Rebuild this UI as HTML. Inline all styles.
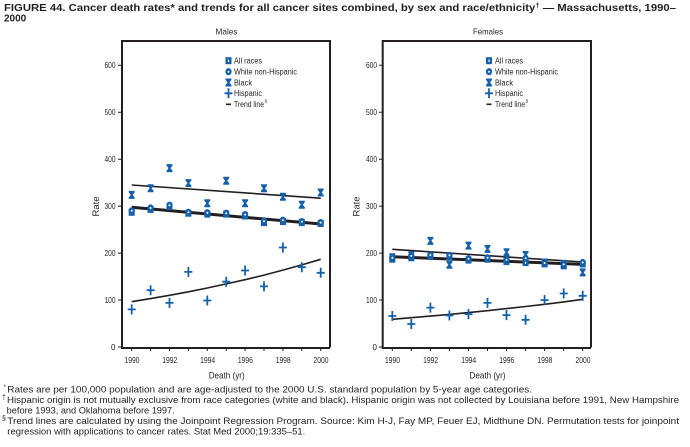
<!DOCTYPE html>
<html><head><meta charset="utf-8">
<style>
html,body{margin:0;padding:0;background:#fff;}
svg{display:block;}
text{font-family:"Liberation Sans",Arial,sans-serif;fill:#231f20;}
</style></head>
<body>
<svg width="690" height="447" viewBox="0 0 690 447" xmlns="http://www.w3.org/2000/svg">
<defs>
  <g id="sq"><rect x="-3" y="-3.5" width="6" height="7" fill="#1460aa"/><rect x="-0.6" y="-1.2" width="1.2" height="2.4" fill="#fff"/></g>
  <g id="ci"><ellipse cx="0" cy="0" rx="3.1" ry="3.6" fill="#1460aa"/><circle cx="0" cy="0" r="1" fill="#fff"/></g>
  <g id="bk"><path d="M-3,-4 H3 V-2.6 L1,0 L3,2.6 V4 H-3 V2.6 L-1,0 L-3,-2.6 Z" fill="#1460aa"/></g>
  <g id="hp"><path d="M-4,0 H4 M0,-5 V5" stroke="#1460aa" stroke-width="1.8" fill="none"/></g>
</defs>

<!-- Title -->
<text x="4" y="11" font-size="10" font-weight="bold" textLength="672" lengthAdjust="spacingAndGlyphs">FIGURE 44. Cancer death rates* and trends for all cancer sites combined, by sex and race/ethnicity<tspan font-size="7" dy="-3">†</tspan><tspan dy="3"> — Massachusetts, 1990–</tspan></text>
<text x="4" y="21.5" font-size="10" font-weight="bold">2000</text>

<!-- ================= MALES ================= -->
<text x="226.5" y="34.5" font-size="8.5" text-anchor="middle" textLength="22" lengthAdjust="spacingAndGlyphs">Males</text>
<path d="M122,41 H330 V347.5 M122,40 V348 H330" stroke="#231f20" stroke-width="2" fill="none"/>
<g stroke="#231f20" stroke-width="1">
  <path d="M118,347 H122 M118,300.05 H122 M118,253.1 H122 M118,206.15 H122 M118,159.2 H122 M118,112.25 H122 M118,65.3 H122"/>
  <path d="M131.7,348 V351 M150.6,348 V351 M169.5,348 V351 M188.4,348 V351 M207.3,348 V351 M226.2,348 V351 M245.1,348 V351 M264,348 V351 M282.9,348 V351 M301.8,348 V351 M320.7,348 V351"/>
</g>
<g font-size="8" text-anchor="end">
  <text x="115.5" y="350">0</text>
  <text x="115.5" y="303" textLength="11" lengthAdjust="spacingAndGlyphs">100</text>
  <text x="115.5" y="256" textLength="11" lengthAdjust="spacingAndGlyphs">200</text>
  <text x="115.5" y="209" textLength="11" lengthAdjust="spacingAndGlyphs">300</text>
  <text x="115.5" y="162" textLength="11" lengthAdjust="spacingAndGlyphs">400</text>
  <text x="115.5" y="115" textLength="11" lengthAdjust="spacingAndGlyphs">500</text>
  <text x="115.5" y="68" textLength="11" lengthAdjust="spacingAndGlyphs">600</text>
</g>
<g font-size="8.5" text-anchor="middle">
  <text x="132" y="363" textLength="15" lengthAdjust="spacingAndGlyphs">1990</text>
  <text x="169.8" y="363" textLength="15" lengthAdjust="spacingAndGlyphs">1992</text>
  <text x="207.6" y="363" textLength="15" lengthAdjust="spacingAndGlyphs">1994</text>
  <text x="245.4" y="363" textLength="15" lengthAdjust="spacingAndGlyphs">1996</text>
  <text x="283.2" y="363" textLength="15" lengthAdjust="spacingAndGlyphs">1998</text>
  <text x="321" y="363" textLength="15" lengthAdjust="spacingAndGlyphs">2000</text>
</g>
<text x="226.7" y="378.5" font-size="9" text-anchor="middle" textLength="36" lengthAdjust="spacingAndGlyphs">Death (yr)</text>
<text transform="translate(99,206.5) rotate(-90)" font-size="9" text-anchor="middle" textLength="20" lengthAdjust="spacingAndGlyphs">Rate</text>

<!-- legend males -->
<use href="#sq" x="228.5" y="60.7"/>
<use href="#ci" x="228.5" y="71.7"/>
<use href="#bk" x="228.5" y="82.5"/>
<use href="#hp" x="228.5" y="93.3"/>
<path d="M226,104.3 H231" stroke="#231f20" stroke-width="1.6"/>
<g font-size="8">
  <text x="234" y="63.5" textLength="28" lengthAdjust="spacingAndGlyphs">All races</text>
  <text x="234" y="74.5" textLength="63" lengthAdjust="spacingAndGlyphs">White non-Hispanic</text>
  <text x="234" y="85.3" textLength="18" lengthAdjust="spacingAndGlyphs">Black</text>
  <text x="234" y="96.1" textLength="28" lengthAdjust="spacingAndGlyphs">Hispanic</text>
  <text x="234" y="107.1" textLength="30" lengthAdjust="spacingAndGlyphs">Trend line</text>
  <text x="264.5" y="102.5" font-size="4.5">§</text>
</g>

<!-- male trend lines -->
<path d="M131.7,185 L320.7,198.2" stroke="#231f20" stroke-width="1.6" fill="none"/>
<path d="M131.7,207.3 L320.7,224" stroke="#231f20" stroke-width="3" fill="none"/>
<polyline points="131.7,301.7 150.6,298.6 169.5,295.3 188.4,291.8 207.3,288 226.2,283.9 245.1,279.7 264,275.1 282.9,270.1 301.8,264.9 320.7,259.3" stroke="#231f20" stroke-width="1.6" fill="none"/>

<!-- male markers -->
<g>
<use href="#bk" x="131.7" y="194.9"/><use href="#bk" x="150.6" y="188.3"/><use href="#bk" x="169.5" y="168.1"/><use href="#bk" x="188.4" y="183.1"/><use href="#bk" x="207.3" y="203.3"/><use href="#bk" x="226.2" y="180.8"/><use href="#bk" x="245.1" y="203.3"/><use href="#bk" x="264" y="188.3"/><use href="#bk" x="282.9" y="196.8"/><use href="#bk" x="301.8" y="204.7"/><use href="#bk" x="320.7" y="192.5"/>
<use href="#sq" x="131.7" y="212.3"/><use href="#sq" x="150.6" y="209.4"/><use href="#sq" x="169.5" y="206.6"/><use href="#sq" x="188.4" y="213.2"/><use href="#sq" x="207.3" y="214.1"/><use href="#sq" x="226.2" y="214.1"/><use href="#sq" x="245.1" y="216"/><use href="#sq" x="264" y="222.6"/><use href="#sq" x="282.9" y="221.6"/><use href="#sq" x="301.8" y="222.6"/><use href="#sq" x="320.7" y="223.5"/>
<use href="#ci" x="131.7" y="210.8"/><use href="#ci" x="150.6" y="208"/><use href="#ci" x="169.5" y="205.2"/><use href="#ci" x="188.4" y="212.3"/><use href="#ci" x="207.3" y="212.7"/><use href="#ci" x="226.2" y="213.2"/><use href="#ci" x="245.1" y="214.6"/><use href="#ci" x="264" y="221.2"/><use href="#ci" x="282.9" y="220.2"/><use href="#ci" x="301.8" y="221.6"/><use href="#ci" x="320.7" y="222.6"/>
<use href="#hp" x="131.7" y="309.4"/><use href="#hp" x="150.6" y="290.2"/><use href="#hp" x="169.5" y="302.9"/><use href="#hp" x="188.4" y="271.9"/><use href="#hp" x="207.3" y="300.5"/><use href="#hp" x="226.2" y="281.7"/><use href="#hp" x="245.1" y="270.5"/><use href="#hp" x="264" y="286.4"/><use href="#hp" x="282.9" y="247.5"/><use href="#hp" x="301.8" y="267.2"/><use href="#hp" x="320.7" y="272.8"/>
</g>

<!-- ================= FEMALES ================= -->
<text x="488" y="34.5" font-size="8.5" text-anchor="middle" textLength="30" lengthAdjust="spacingAndGlyphs">Females</text>
<path d="M382.7,41 H591 V347.5 M382.7,40 V348 H591" stroke="#231f20" stroke-width="2" fill="none"/>
<g stroke="#231f20" stroke-width="1">
  <path d="M379,347 H382.7 M379,300.05 H382.7 M379,253.1 H382.7 M379,206.15 H382.7 M379,159.2 H382.7 M379,112.25 H382.7 M379,65.3 H382.7"/>
  <path d="M392.3,348 V351 M411.3,348 V351 M430.4,348 V351 M449.4,348 V351 M468.5,348 V351 M487.5,348 V351 M506.5,348 V351 M525.6,348 V351 M544.6,348 V351 M563.7,348 V351 M582.7,348 V351"/>
</g>
<g font-size="8" text-anchor="end">
  <text x="377" y="350">0</text>
  <text x="377" y="303" textLength="11" lengthAdjust="spacingAndGlyphs">100</text>
  <text x="377" y="256" textLength="11" lengthAdjust="spacingAndGlyphs">200</text>
  <text x="377" y="209" textLength="11" lengthAdjust="spacingAndGlyphs">300</text>
  <text x="377" y="162" textLength="11" lengthAdjust="spacingAndGlyphs">400</text>
  <text x="377" y="115" textLength="11" lengthAdjust="spacingAndGlyphs">500</text>
  <text x="377" y="68" textLength="11" lengthAdjust="spacingAndGlyphs">600</text>
</g>
<g font-size="8.5" text-anchor="middle">
  <text x="392.5" y="363" textLength="15" lengthAdjust="spacingAndGlyphs">1990</text>
  <text x="430.6" y="363" textLength="15" lengthAdjust="spacingAndGlyphs">1992</text>
  <text x="468.7" y="363" textLength="15" lengthAdjust="spacingAndGlyphs">1994</text>
  <text x="506.8" y="363" textLength="15" lengthAdjust="spacingAndGlyphs">1996</text>
  <text x="544.9" y="363" textLength="15" lengthAdjust="spacingAndGlyphs">1998</text>
  <text x="583" y="363" textLength="15" lengthAdjust="spacingAndGlyphs">2000</text>
</g>
<text x="487.5" y="378.5" font-size="9" text-anchor="middle" textLength="36" lengthAdjust="spacingAndGlyphs">Death (yr)</text>
<text transform="translate(359.5,206.5) rotate(-90)" font-size="9" text-anchor="middle" textLength="20" lengthAdjust="spacingAndGlyphs">Rate</text>

<!-- legend females -->
<use href="#sq" x="489" y="60.7"/>
<use href="#ci" x="489" y="71.7"/>
<use href="#bk" x="489" y="82.5"/>
<use href="#hp" x="489" y="93.3"/>
<path d="M486.5,104.3 H491.5" stroke="#231f20" stroke-width="1.6"/>
<g font-size="8">
  <text x="495" y="63.5" textLength="28" lengthAdjust="spacingAndGlyphs">All races</text>
  <text x="495" y="74.5" textLength="63" lengthAdjust="spacingAndGlyphs">White non-Hispanic</text>
  <text x="495" y="85.3" textLength="18" lengthAdjust="spacingAndGlyphs">Black</text>
  <text x="495" y="96.1" textLength="28" lengthAdjust="spacingAndGlyphs">Hispanic</text>
  <text x="495" y="107.1" textLength="30" lengthAdjust="spacingAndGlyphs">Trend line</text>
  <text x="525.5" y="102.5" font-size="4.5">§</text>
</g>

<!-- female trend lines -->
<path d="M392.3,249.3 L582.7,262" stroke="#231f20" stroke-width="1.6" fill="none"/>
<path d="M392.3,256.7 L582.7,264.4" stroke="#231f20" stroke-width="3" fill="none"/>
<polyline points="392.3,319.3 411.3,317.7 430.4,316.1 449.4,314.4 468.5,312.6 487.5,310.7 506.5,308.6 525.6,306.5 544.6,304.3 563.7,301.9 582.7,299.3" stroke="#231f20" stroke-width="1.6" fill="none"/>

<!-- female markers -->
<g>
<use href="#bk" x="392.3" y="257.3"/><use href="#bk" x="411.3" y="255.4"/><use href="#bk" x="430.4" y="240.9"/><use href="#bk" x="449.4" y="264.8"/><use href="#bk" x="468.5" y="245.6"/><use href="#bk" x="487.5" y="248.9"/><use href="#bk" x="506.5" y="252.2"/><use href="#bk" x="525.6" y="255"/><use href="#bk" x="544.6" y="262.5"/><use href="#bk" x="563.7" y="263.9"/><use href="#bk" x="582.7" y="272.4"/>
<use href="#sq" x="392.3" y="259.2"/><use href="#sq" x="411.3" y="257.8"/><use href="#sq" x="430.4" y="256.4"/><use href="#sq" x="449.4" y="256.9"/><use href="#sq" x="468.5" y="260.1"/><use href="#sq" x="487.5" y="259.2"/><use href="#sq" x="506.5" y="261.6"/><use href="#sq" x="525.6" y="262.5"/><use href="#sq" x="544.6" y="263.9"/><use href="#sq" x="563.7" y="265.8"/><use href="#sq" x="582.7" y="263.9"/>
<use href="#ci" x="392.3" y="257.8"/><use href="#ci" x="411.3" y="255.9"/><use href="#ci" x="430.4" y="255"/><use href="#ci" x="449.4" y="255.4"/><use href="#ci" x="468.5" y="258.7"/><use href="#ci" x="487.5" y="257.8"/><use href="#ci" x="506.5" y="259.7"/><use href="#ci" x="525.6" y="258.3"/><use href="#ci" x="544.6" y="263"/><use href="#ci" x="563.7" y="264.4"/><use href="#ci" x="582.7" y="262.5"/>
<use href="#hp" x="392.3" y="316"/><use href="#hp" x="411.3" y="324"/><use href="#hp" x="430.4" y="307.6"/><use href="#hp" x="449.4" y="315.5"/><use href="#hp" x="468.5" y="314.1"/><use href="#hp" x="487.5" y="302.9"/><use href="#hp" x="506.5" y="315.1"/><use href="#hp" x="525.6" y="319.8"/><use href="#hp" x="544.6" y="300.1"/><use href="#hp" x="563.7" y="293.5"/><use href="#hp" x="582.7" y="295.8"/>
</g>

<!-- Footnotes -->
<g font-size="9">
  <text x="3.5" y="389" font-size="6">*</text>
  <text x="7.3" y="392.5" textLength="524.7" lengthAdjust="spacingAndGlyphs">Rates are per 100,000 population and are age-adjusted to the 2000 U.S. standard population by 5-year age categories.</text>
  <text x="2" y="399.5" font-size="7">†</text>
  <text x="7" y="403" textLength="672" lengthAdjust="spacingAndGlyphs">Hispanic origin is not mutually exclusive from race categories (white and black). Hispanic origin was not collected by Louisiana before 1991, New Hampshire</text>
  <text x="6.7" y="413.5" textLength="168" lengthAdjust="spacingAndGlyphs">before 1993, and Oklahoma before 1997.</text>
  <text x="2" y="420.5" font-size="7">§</text>
  <text x="7.3" y="424" textLength="671.7" lengthAdjust="spacingAndGlyphs">Trend lines are calculated by using the Joinpoint Regression Program. Source: Kim H-J, Fay MP, Feuer EJ, Midthune DN. Permutation tests for joinpoint</text>
  <text x="7.3" y="434.5" textLength="298" lengthAdjust="spacingAndGlyphs">regression with applications to cancer rates. Stat Med 2000;19:335–51.</text>
</g>
</svg>
</body></html>
